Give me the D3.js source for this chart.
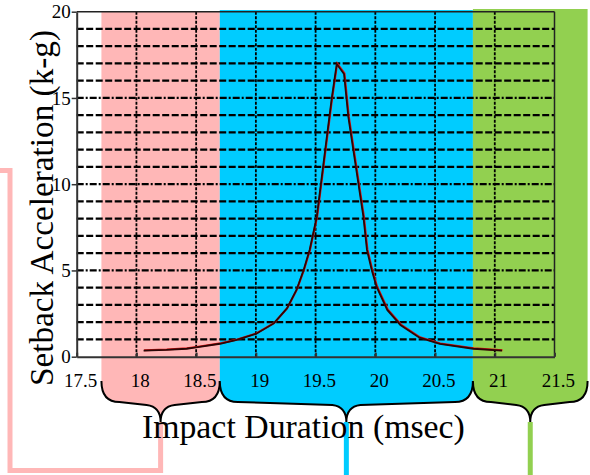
<!DOCTYPE html>
<html>
<head>
<meta charset="utf-8">
<script src="https://cdn.jsdelivr.net/npm/d3@7"></script>
<style>
  html, body { margin: 0; padding: 0; background: #fff; }
  svg { display: block; font-family: "Liberation Serif", "Times New Roman", serif; }
</style>
</head>
<body>
<svg id="chart" width="590" height="475"></svg>
<script>
// ---- data ----
const timeMs  = [18.06, 18.25, 18.42, 18.50, 18.70, 18.84, 19.00, 19.15, 19.26, 19.34, 19.40, 19.45, 19.51, 19.58, 19.635, 19.677, 19.738, 19.774, 19.816, 19.858, 19.90, 19.93, 19.97, 20.01, 20.10, 20.21, 20.37, 20.54, 20.82, 21.06];
const accelKg = [0.35, 0.39, 0.46, 0.54, 0.75, 0.97, 1.32, 1.93, 2.80, 3.87, 5.03, 6.19, 8.12, 11.98, 14.98, 16.97, 16.39, 13.90, 11.98, 10.05, 8.12, 6.19, 5.03, 4.06, 2.71, 1.84, 1.10, 0.74, 0.46, 0.35];
const xTicks = [17.5, 18, 18.5, 19, 19.5, 20, 20.5, 21, 21.5];
const yTicks = [0, 5, 10, 15, 20];
const yGrid  = [1,2,3,4,5,6,7,8,9,10,11,12,13,14,15,16,17,18,19];
const xGrid  = [18, 18.5, 19, 19.5, 20, 20.5, 21];
const bandNames  = ["low", "mid", "high"];
const bandStart  = [17.707, 18.698, 20.817];
const bandEnd    = [18.698, 20.817, 21.777];
const bandColors = ["#ffb7b7", "#00ccff", "#92d050"];
const xTitle = "Impact Duration (msec)";
const yTitle = "Setback Acceleration (k-g)";

// ---- layout ----
const svg = d3.select("#chart");
const x = d3.scaleLinear().domain([17.5, 21.5]).range([76.7, 554.5]);
const y = d3.scaleLinear().domain([0, 20]).range([356.7, 11.7]);

const bandTop = [12, 10, 9];
const y0 = 381, ys = 402, yt = 422;

function bracePath(a, b) {
  const m = (a + b) / 2;
  return `M${a},${y0} C${a},${y0+14} ${a+6},${ys} ${a+18},${ys} ` +
         `L${m-14},${ys+3} C${m-6},${ys+4} ${m},${ys+9} ${m},${yt} ` +
         `C${m},${ys+9} ${m+6},${ys+4} ${m+14},${ys+3} ` +
         `L${b-18},${ys} C${b-6},${ys} ${b},${y0+14} ${b},${y0}`;
}

// connector lines (drawn first, under text)
const conn = svg.append("g").attr("fill", "none").attr("stroke-width", 5);
const mids = bandStart.map((s, i) => x((s + bandEnd[i]) / 2));
conn.append("path").attr("stroke", bandColors[0])
  .attr("d", `M0,170.5 H10 V470.5 H${mids[0]} V${yt}`);
conn.append("path").attr("stroke", bandColors[1])
  .attr("d", `M${mids[1]},${yt} V475`);
conn.append("path").attr("stroke", bandColors[2])
  .attr("d", `M${mids[2]},${yt} V475`);

// bands
bandNames.forEach((n, i) => {
  const a = x(bandStart[i]), b = x(bandEnd[i]);
  svg.append("path")
    .attr("fill", bandColors[i])
    .attr("d", `M${a},${bandTop[i]} L${a},${y0} ` + bracePath(a, b).replace(/^M[^C]*/, "") + ` L${b},${bandTop[i]} Z`);
  svg.append("path")
    .attr("fill", "none").attr("stroke", "#000").attr("stroke-width", 2)
    .attr("d", bracePath(a, b));
});

// gridlines
const grid = svg.append("g");
grid.selectAll("line.h").data(yGrid).join("line")
  .attr("x1", x(17.5)).attr("x2", x(21.5))
  .attr("y1", d => y(d)).attr("y2", d => y(d))
  .attr("stroke", "#000").attr("stroke-width", 2.2)
  .attr("stroke-dasharray", d => d % 5 === 0 ? "7,2,2,2" : "7,2.5");
grid.selectAll("line.v").data(xGrid).join("line")
  .attr("x1", d => x(d)).attr("x2", d => x(d))
  .attr("y1", y(20)).attr("y2", y(0))
  .attr("stroke", "#000").attr("stroke-width", 1.8)
  .attr("stroke-dasharray", "3,1.5");

// frame
svg.append("line").attr("x1", x(17.5)).attr("x2", x(21.5)).attr("y1", y(20)).attr("y2", y(20))
  .attr("stroke", "#222").attr("stroke-width", 1.5);
svg.append("line").attr("x1", x(21.5)).attr("x2", x(21.5)).attr("y1", y(20)).attr("y2", y(0))
  .attr("stroke", "#222").attr("stroke-width", 1.5);

// axes
const xAxis = svg.append("g").attr("transform", `translate(0,${y(0)})`)
  .call(d3.axisBottom(x).tickValues(xTicks).tickFormat(d3.format("")).tickSizeInner(-4).tickSizeOuter(0).tickPadding(17));
xAxis.select(".domain").attr("stroke", "#333").attr("stroke-width", 2);
xAxis.selectAll(".tick line").attr("stroke", "#333").attr("stroke-width", 2);
xAxis.selectAll(".tick text").attr("font-size", 19).attr("font-family", "Liberation Serif").attr("dx", 3.3).attr("fill", "#000");

const yAxis = svg.append("g").attr("transform", `translate(${x(17.5)},0)`)
  .call(d3.axisLeft(y).tickValues(yTicks).tickSizeInner(5).tickSizeOuter(0).tickPadding(1));
yAxis.select(".domain").attr("stroke", "#333").attr("stroke-width", 2);
yAxis.selectAll(".tick line").attr("stroke", "#333").attr("stroke-width", 1.5);
yAxis.selectAll(".tick text").attr("font-size", 19).attr("font-family", "Liberation Serif").attr("fill", "#000");

// curve
const pts = timeMs.map((t, i) => [t, accelKg[i]]);
const line = d3.line().x(d => x(d[0])).y(d => y(d[1]));
svg.append("path").datum(pts).attr("fill", "none")
  .attr("stroke", "#e01010").attr("stroke-width", 2).attr("d", line)
  .attr("transform", "translate(0.5,-0.5)");
svg.append("path").datum(pts).attr("fill", "none")
  .attr("stroke", "#2a0606").attr("stroke-width", 1.8).attr("d", line);

// titles
svg.append("text").attr("x", 303.4).attr("y", 438)
  .attr("text-anchor", "middle").attr("font-size", 34).attr("fill", "#000")
  .attr("textLength", 323).attr("lengthAdjust", "spacingAndGlyphs")
  .text(xTitle);
svg.append("text").attr("transform", "translate(53,208) rotate(-90)")
  .attr("text-anchor", "middle").attr("font-size", 33).attr("fill", "#000")
  .attr("textLength", 356).attr("lengthAdjust", "spacingAndGlyphs")
  .text(yTitle);
</script>
</body>
</html>
